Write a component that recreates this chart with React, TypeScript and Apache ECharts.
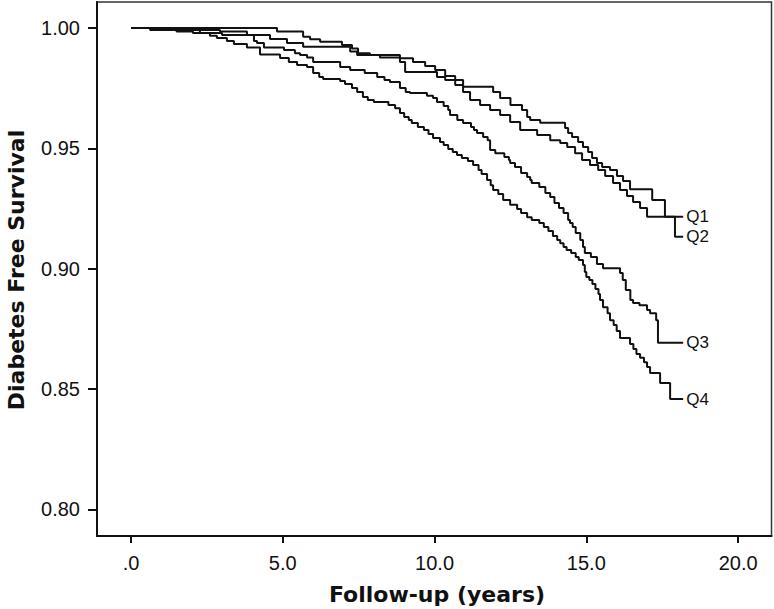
import React, { useEffect, useRef } from "react";
import * as echarts from "echarts";

// Kaplan-Meier step points: [follow-up years, diabetes free survival]
const q1: number[][] = [
  [0, 1.0], [4.81, 0.9985], [5.67, 0.9964], [5.9, 0.9953], [6.23, 0.9943], [6.95, 0.9929],
  [7.28, 0.9915], [7.48, 0.9895], [7.87, 0.9888], [8.86, 0.9874], [9.29, 0.9859], [9.69, 0.9842],
  [10.02, 0.9825], [10.35, 0.98], [10.68, 0.9784], [10.94, 0.9756], [11.93, 0.9734], [12.16, 0.9709],
  [12.5, 0.968], [12.88, 0.9659], [13.05, 0.963], [13.15, 0.9618], [13.48, 0.9606], [14.3, 0.9584],
  [14.4, 0.9564], [14.53, 0.9547], [14.73, 0.9526], [14.89, 0.9505], [15.06, 0.9485], [15.19, 0.946],
  [15.35, 0.9439], [15.52, 0.9422], [15.78, 0.941], [16.01, 0.9385], [16.21, 0.9364], [16.44, 0.933],
  [17.17, 0.9285], [17.59, 0.9216], [18.19, 0.9216],
];

const q2: number[][] = [
  [0, 1.0], [0.96, 0.9992], [2.93, 0.9985], [3.82, 0.9971], [4.58, 0.9954], [5.14, 0.9938],
  [5.67, 0.9922], [7.22, 0.9902], [7.45, 0.9888], [8.2, 0.9877], [8.86, 0.9859], [9.03, 0.9817],
  [10.08, 0.9796], [10.35, 0.9784], [10.68, 0.9763], [10.94, 0.9734], [11.17, 0.9701], [11.5, 0.968],
  [11.83, 0.9659], [12.16, 0.9638], [12.49, 0.9609], [12.82, 0.9576], [13.38, 0.9555], [13.81, 0.9534],
  [14.14, 0.9522], [14.37, 0.9505], [14.63, 0.948], [14.86, 0.9451], [15.12, 0.9431], [15.39, 0.941],
  [15.62, 0.9385], [15.88, 0.9356], [16.11, 0.9327], [16.34, 0.9302], [16.54, 0.9277], [16.77, 0.9252],
  [17.0, 0.9216], [17.92, 0.9133], [18.19, 0.9133],
];

const q3: number[][] = [
  [0, 1.0], [1.1, 0.9992], [2.27, 0.9979], [3.0, 0.9971], [4.05, 0.9946], [4.15, 0.9938],
  [4.38, 0.9919], [5.04, 0.9909], [5.4, 0.9895], [5.57, 0.9888], [5.8, 0.9877], [6.0, 0.9859],
  [6.89, 0.9838], [7.22, 0.9825], [7.7, 0.9813], [8.11, 0.9796], [8.35, 0.9784], [8.53, 0.9776],
  [8.86, 0.9751], [9.05, 0.9734], [9.19, 0.973], [9.75, 0.9718], [9.95, 0.9709], [10.08, 0.9692],
  [10.3, 0.9676], [10.45, 0.9659], [10.51, 0.9638], [10.75, 0.9618], [10.94, 0.9605], [11.2, 0.9589],
  [11.3, 0.9576], [11.4, 0.9564], [11.6, 0.9547], [11.75, 0.9534], [11.83, 0.9493], [12.0, 0.948],
  [12.3, 0.9464], [12.45, 0.9451], [12.49, 0.9439], [12.65, 0.9422], [12.85, 0.9397], [13.05, 0.9381],
  [13.15, 0.9368], [13.2, 0.9356], [13.45, 0.9339], [13.65, 0.9314], [13.81, 0.9298], [13.95, 0.9273],
  [14.1, 0.9252], [14.25, 0.9231], [14.4, 0.9202], [14.46, 0.919], [14.55, 0.9173], [14.65, 0.9148],
  [14.8, 0.9119], [14.89, 0.909], [14.95, 0.9065], [15.15, 0.9048], [15.35, 0.9019], [15.55, 0.9002],
  [16.11, 0.8982], [16.2, 0.8953], [16.3, 0.8911], [16.45, 0.887], [16.54, 0.8857], [16.75, 0.8848],
  [17.0, 0.8828], [17.1, 0.8815], [17.3, 0.8786], [17.36, 0.8692], [18.19, 0.8692],
];

const q4: number[][] = [
  [0, 1.0], [0.63, 0.9992], [1.5, 0.9985], [2.04, 0.9979], [2.6, 0.9968], [2.83, 0.9958],
  [3.16, 0.9946], [3.39, 0.9933], [3.82, 0.9919], [4.25, 0.989], [4.91, 0.9875], [5.2, 0.9859],
  [5.47, 0.9846], [5.8, 0.9838], [6.0, 0.9813], [6.2, 0.9796], [6.33, 0.9788], [6.89, 0.978],
  [7.05, 0.9767], [7.28, 0.9751], [7.45, 0.9734], [7.64, 0.9713], [7.8, 0.9701], [8.0, 0.9692],
  [8.48, 0.968], [8.7, 0.9667], [8.86, 0.9647], [9.0, 0.963], [9.15, 0.9618], [9.25, 0.9605],
  [9.45, 0.9589], [9.65, 0.9576], [9.8, 0.956], [9.95, 0.9543], [10.18, 0.9526], [10.3, 0.9514],
  [10.45, 0.9497], [10.6, 0.9485], [10.74, 0.9472], [10.9, 0.946], [11.1, 0.9447], [11.27, 0.9431],
  [11.45, 0.941], [11.55, 0.9393], [11.73, 0.9368], [11.85, 0.9347], [11.93, 0.9327], [12.1, 0.931],
  [12.26, 0.9285], [12.49, 0.9265], [12.72, 0.9248], [12.85, 0.9231], [13.05, 0.9214], [13.2, 0.9202],
  [13.45, 0.919], [13.6, 0.9173], [13.75, 0.9156], [13.9, 0.9136], [14.04, 0.9119], [14.14, 0.9106],
  [14.25, 0.909], [14.35, 0.9077], [14.5, 0.9065], [14.65, 0.9048], [14.75, 0.9036], [14.89, 0.9015],
  [14.95, 0.8986], [15.0, 0.8965], [15.1, 0.8953], [15.2, 0.8936], [15.3, 0.8915], [15.4, 0.8895],
  [15.45, 0.887], [15.55, 0.884], [15.7, 0.8815], [15.78, 0.8786], [15.9, 0.8766], [16.0, 0.8741],
  [16.11, 0.8712], [16.44, 0.8687], [16.55, 0.8666], [16.65, 0.8645], [16.77, 0.863], [16.9, 0.8611],
  [17.0, 0.8591], [17.1, 0.8566], [17.43, 0.8525], [17.76, 0.8458], [18.19, 0.8458],
];

const seriesNames = ["Q1", "Q2", "Q3", "Q4"];
const seriesData = [q1, q2, q3, q4];
const xTicks = [0, 5, 10, 15, 20];
const yTicks = [0.8, 0.85, 0.9, 0.95, 1.0];
const xTitle = "Follow-up (years)";
const yTitle = "Diabetes Free Survival";

const INK = "#111";
const LABEL_FONT = "'Liberation Sans', Arial, sans-serif";
const TITLE_FONT = "'DejaVu Sans', Verdana, sans-serif";

export default function App() {
  const ref = useRef<HTMLDivElement>(null);

  useEffect(() => {
    if (!ref.current) return;
    const chart = echarts.init(ref.current, undefined, { renderer: "svg" });
    chart.setOption({
      animation: false,
      backgroundColor: "#fff",
      grid: {
        left: 97,
        right: 2.5,
        top: 2,
        bottom: 73,
        show: true,
        borderColor: "#333",
        borderWidth: 1.5,
        backgroundColor: "transparent",
      },
      xAxis: {
        type: "value",
        min: -1.12,
        max: 21.1,
        axisLine: { show: true, onZero: false, lineStyle: { color: INK, width: 2 } },
        axisTick: {
          show: true,
          customValues: xTicks,
          length: 7,
          lineStyle: { color: INK, width: 2 },
        },
        axisLabel: {
          customValues: xTicks,
          margin: 17,
          fontSize: 20,
          color: INK,
          fontFamily: LABEL_FONT,
          formatter: (v: number) => (v === 0 ? ".0" : v.toFixed(1)),
        },
        splitLine: { show: false },
      },
      yAxis: {
        type: "value",
        min: 0.7889,
        max: 1.0108,
        axisLine: { show: true, onZero: false, lineStyle: { color: INK, width: 2 } },
        axisTick: {
          show: true,
          customValues: yTicks,
          length: 9,
          lineStyle: { color: INK, width: 2 },
        },
        axisLabel: {
          customValues: yTicks,
          margin: 17,
          fontSize: 20,
          color: INK,
          fontFamily: LABEL_FONT,
          formatter: (v: number) => v.toFixed(2),
        },
        splitLine: { show: false },
      },
      graphic: [
        {
          type: "text",
          x: 437,
          y: 594,
          style: {
            text: xTitle,
            fill: INK,
            font: `bold 22px ${TITLE_FONT}`,
            textAlign: "center",
            textVerticalAlign: "middle",
          },
        },
        {
          type: "text",
          x: 16,
          y: 270,
          rotation: Math.PI / 2,
          style: {
            text: yTitle,
            fill: INK,
            font: `bold 22px ${TITLE_FONT}`,
            textAlign: "center",
            textVerticalAlign: "middle",
          },
        },
      ],
      series: seriesData.map((d, i) => ({
        type: "line",
        name: seriesNames[i],
        data: d,
        step: "end",
        showSymbol: false,
        symbol: "none",
        lineStyle: { color: INK, width: 2 },
        endLabel: {
          show: true,
          formatter: "{a}",
          distance: 3,
          fontSize: 17,
          color: INK,
          fontFamily: LABEL_FONT,
        },
        z: 3,
      })),
    });
    return () => chart.dispose();
  }, []);

  return (
    <div
      ref={ref}
      style={{ position: "absolute", left: 0, top: 0, width: 774, height: 609, background: "#fff" }}
    />
  );
}
